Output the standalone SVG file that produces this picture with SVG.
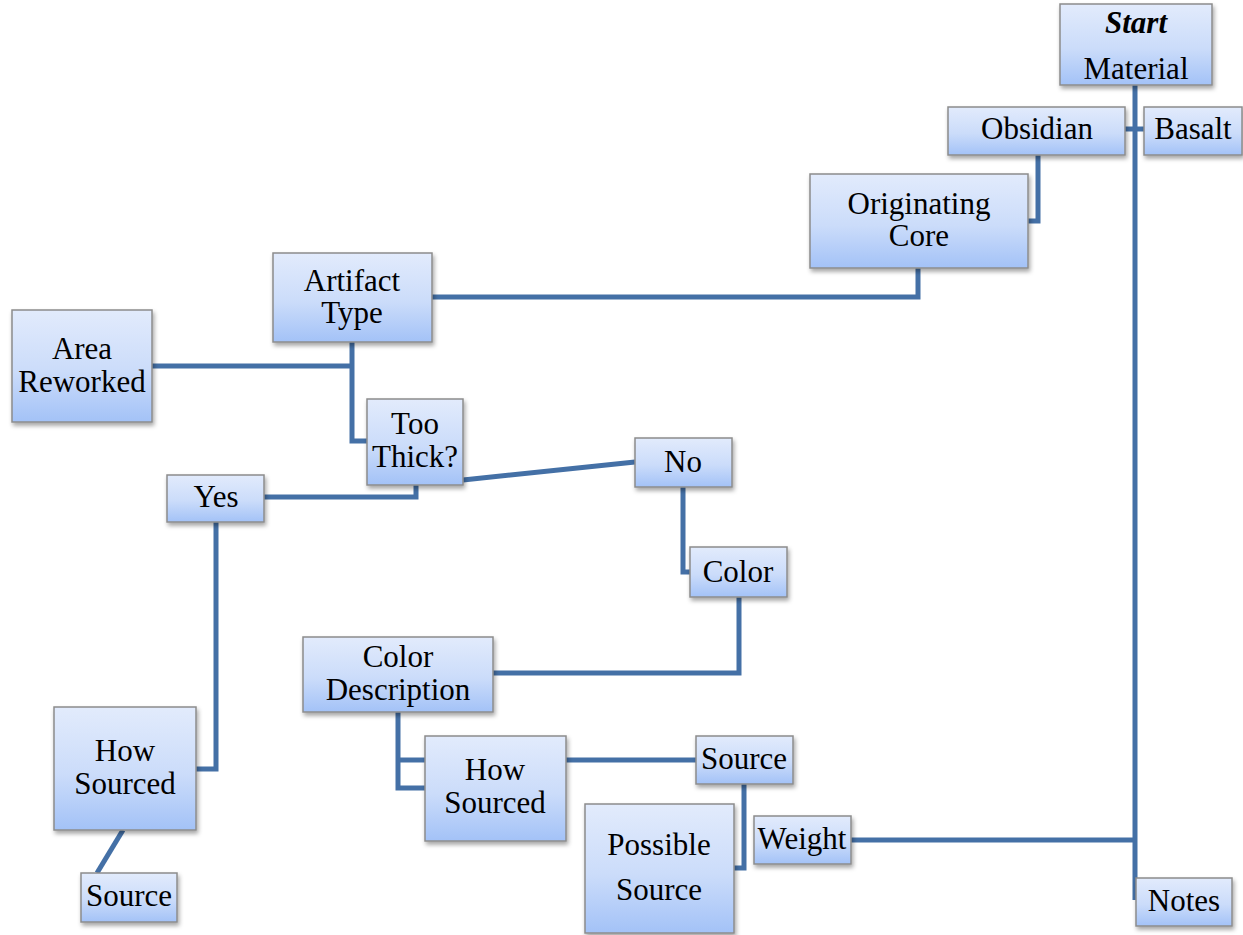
<svg xmlns="http://www.w3.org/2000/svg" width="1243" height="935" viewBox="0 0 1243 935">
<style>
.box{fill:url(#g);stroke:#8c8c8c;stroke-width:1.5;filter:url(#sh)}
.t{font-size:31px;fill:#000;text-anchor:middle}
.c{fill:none;stroke:#4470a6;stroke-width:5;stroke-linejoin:miter}
</style>
<defs>
<linearGradient id="g" x1="0" y1="0" x2="0" y2="1">
<stop offset="0" stop-color="#e2ebfc"/>
<stop offset="0.55" stop-color="#cbdcfa"/>
<stop offset="1" stop-color="#a3c2f7"/>
</linearGradient>
<filter id="sh" x="-20%" y="-20%" width="140%" height="150%">
<feDropShadow dx="1.5" dy="3" stdDeviation="2" flood-color="#000" flood-opacity="0.35"/>
</filter>
</defs>
<g id="connectors">
<path class="c" d="M1135 85 V900"/>
<path class="c" d="M1125 129 H1144"/>
<path class="c" d="M1038 155 V221 H1028"/>
<path class="c" d="M918 268 V297 H432"/>
<path class="c" d="M152 366 H352"/>
<path class="c" d="M352 342 V441 H367"/>
<path class="c" d="M264 497 H416 V485"/>
<path class="c" d="M463 480 L635 462"/>
<path class="c" d="M683 487 V572 H690"/>
<path class="c" d="M739 597 V673 H493"/>
<path class="c" d="M398 712 V788 H425"/>
<path class="c" d="M398 760 H425"/>
<path class="c" d="M566 760 H696"/>
<path class="c" d="M744 784 V868 H734"/>
<path class="c" d="M851 840 H1135"/>
<path class="c" d="M196 769 H216 V522"/>
<path class="c" d="M123 830 L97 873"/>
</g>
<g font-family="Liberation Serif, serif">
<g id="n-material">
<rect class="box" x="1060" y="4" width="152" height="81"/>
<text class="t" x="1136" y="33" font-weight="bold" font-style="italic">Start</text>
<text class="t" x="1136" y="79">Material</text>
</g>
<g id="n-obsidian">
<rect class="box" x="948" y="107" width="177" height="48"/>
<text class="t" x="1037" y="139">Obsidian</text>
</g>
<g id="n-basalt">
<rect class="box" x="1144" y="107" width="98" height="48"/>
<text class="t" x="1193" y="139">Basalt</text>
</g>
<g id="n-core">
<rect class="box" x="810" y="174" width="218" height="94"/>
<text class="t" x="919" y="214">Originating</text>
<text class="t" x="919" y="246">Core</text>
</g>
<g id="n-artifact">
<rect class="box" x="273" y="253" width="159" height="89"/>
<text class="t" x="352" y="291">Artifact</text>
<text class="t" x="352" y="323">Type</text>
</g>
<g id="n-area">
<rect class="box" x="12" y="310" width="140" height="112"/>
<text class="t" x="82" y="359">Area</text>
<text class="t" x="82" y="392">Reworked</text>
</g>
<g id="n-thick">
<rect class="box" x="367" y="399" width="96" height="86"/>
<text class="t" x="415" y="434">Too</text>
<text class="t" x="415" y="467">Thick?</text>
</g>
<g id="n-yes">
<rect class="box" x="167" y="475" width="97" height="47"/>
<text class="t" x="216" y="507">Yes</text>
</g>
<g id="n-no">
<rect class="box" x="635" y="438" width="97" height="49"/>
<text class="t" x="683" y="472">No</text>
</g>
<g id="n-color">
<rect class="box" x="690" y="547" width="97" height="50"/>
<text class="t" x="738" y="582">Color</text>
</g>
<g id="n-colordesc">
<rect class="box" x="303" y="637" width="190" height="75"/>
<text class="t" x="398" y="667">Color</text>
<text class="t" x="398" y="700">Description</text>
</g>
<g id="n-howsourced2">
<rect class="box" x="425" y="736" width="141" height="105"/>
<text class="t" x="495" y="780">How</text>
<text class="t" x="495" y="813">Sourced</text>
</g>
<g id="n-source2">
<rect class="box" x="696" y="736" width="97" height="48"/>
<text class="t" x="744" y="769">Source</text>
</g>
<g id="n-possible">
<rect class="box" x="585" y="804" width="149" height="129"/>
<text class="t" x="659" y="855">Possible</text>
<text class="t" x="659" y="900">Source</text>
</g>
<g id="n-weight">
<rect class="box" x="754" y="816" width="97" height="48"/>
<text class="t" x="802" y="849">Weight</text>
</g>
<g id="n-notes">
<rect class="box" x="1136" y="878" width="96" height="48"/>
<text class="t" x="1184" y="911">Notes</text>
</g>
<g id="n-howsourced1">
<rect class="box" x="54" y="707" width="142" height="123"/>
<text class="t" x="125" y="761">How</text>
<text class="t" x="125" y="794">Sourced</text>
</g>
<g id="n-source1">
<rect class="box" x="81" y="873" width="96" height="49"/>
<text class="t" x="129" y="906">Source</text>
</g>
</g>
</svg>
